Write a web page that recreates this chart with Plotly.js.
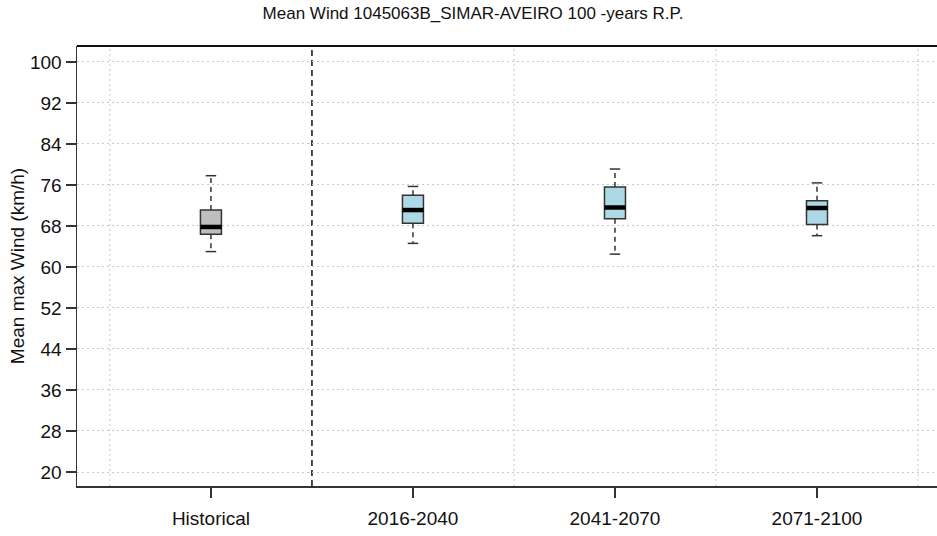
<!DOCTYPE html>
<html>
<head>
<meta charset="utf-8">
<script src="https://cdn.plot.ly/plotly-3.0.1.min.js"></script>
<style>
  html, body { margin: 0; padding: 0; background: #fff; }
  #chart { width: 937px; height: 536px; }
</style>
</head>
<body>
<div id="chart"></div>
<script>
// ---- data ----
const categories = ['Historical', '2016-2040', '2041-2070', '2071-2100'];
const lowerWhisker = [63.0, 64.6, 62.5, 66.1];
const q1 = [66.4, 68.5, 69.4, 68.3];
const median = [67.8, 71.1, 71.6, 71.5];
const q3 = [71.1, 74.0, 75.6, 72.9];
const upperWhisker = [77.8, 75.7, 79.1, 76.4];
const boxColors = ['#bebebe', '#add8e6', '#add8e6', '#add8e6'];
const yTicks = [20, 28, 36, 44, 52, 60, 68, 76, 84, 92, 100];
const separators = [-0.5, 0.5, 1.5, 2.5, 3.5];

const positions = categories.map((c, i) => i);
const boxWidth = 0.104;
const capHalf = 0.026;
const lineCol = '#333333';

const traces = [];
// whiskers (dashed) and caps
positions.forEach((p, i) => {
  traces.push({
    type: 'scatter', mode: 'lines', x: [p, p, null, p, p], y: [q3[i], upperWhisker[i], null, q1[i], lowerWhisker[i]],
    line: { color: lineCol, width: 1.5, dash: '5px,4px' }, hoverinfo: 'skip', showlegend: false
  });
  traces.push({
    type: 'scatter', mode: 'lines',
    x: [p - capHalf, p + capHalf, null, p - capHalf, p + capHalf],
    y: [upperWhisker[i], upperWhisker[i], null, lowerWhisker[i], lowerWhisker[i]],
    line: { color: lineCol, width: 1.5 }, hoverinfo: 'skip', showlegend: false
  });
});
// boxes
positions.forEach((p, i) => {
  traces.push({
    type: 'box', x: [p], q1: [q1[i]], median: [median[i]], q3: [q3[i]],
    lowerfence: [q1[i]], upperfence: [q3[i]],
    width: boxWidth, fillcolor: boxColors[i],
    line: { color: lineCol, width: 1.5 }, whiskerwidth: 0,
    hoverinfo: 'skip', showlegend: false
  });
});
// thick medians
positions.forEach((p, i) => {
  traces.push({
    type: 'scatter', mode: 'lines', x: [p - boxWidth / 2, p + boxWidth / 2], y: [median[i], median[i]],
    line: { color: '#000000', width: 4.5 }, hoverinfo: 'skip', showlegend: false
  });
});

const shapes = separators.map(s => ({
  type: 'line', xref: 'x', yref: 'paper', x0: s, x1: s, y0: 0, y1: 1, layer: 'below',
  line: s === 0.5 ? { color: '#111111', width: 1.5, dash: '6px,4px' }
                  : { color: '#c8c8c8', width: 1, dash: '2px,3px' }
}));
shapes.push({
  type: 'line', xref: 'paper', yref: 'paper', x0: 0, x1: 1, y0: 1, y1: 1,
  line: { color: '#111111', width: 2 }
});

const font = { family: 'Liberation Sans, Arial, sans-serif', color: '#111111' };

const layout = {
  width: 937, height: 536,
  margin: { l: 77, r: 0, t: 46, b: 50, pad: 0 },
  paper_bgcolor: '#ffffff', plot_bgcolor: '#ffffff',
  font: Object.assign({ size: 19 }, font),
  title: {
    text: 'Mean Wind 1045063B_SIMAR-AVEIRO 100 -years R.P.',
    font: Object.assign({ size: 17 }, font),
    x: 473 / 937, xref: 'container', xanchor: 'center',
    y: 1 - 13 / 536, yref: 'container', yanchor: 'middle'
  },
  xaxis: {
    range: [-0.663, 3.594], tickmode: 'array', tickvals: positions, ticktext: categories,
    showgrid: false, zeroline: false, showline: true, linecolor: '#333333', linewidth: 1.5,
    ticks: 'outside', ticklen: 10, tickwidth: 1.5, tickcolor: '#333333',
    ticklabelstandoff: 5,
    tickfont: Object.assign({ size: 19 }, font)
  },
  yaxis: {
    range: [17.27, 103.1], tickmode: 'array', tickvals: yTicks,
    showgrid: true, gridcolor: '#c8c8c8', gridwidth: 1, griddash: '2px,3px',
    zeroline: false, showline: true, linecolor: '#333333', linewidth: 1.5,
    ticks: 'outside', ticklen: 10, tickwidth: 1.5, tickcolor: '#333333',
    tickfont: Object.assign({ size: 19 }, font),
    title: { text: 'Mean max Wind (km/h)', font: Object.assign({ size: 19 }, font), standoff: 0 }
  },
  shapes: shapes,
  showlegend: false
};

Plotly.newPlot('chart', traces, layout, { displayModeBar: false, staticPlot: true });
</script>
</body>
</html>
